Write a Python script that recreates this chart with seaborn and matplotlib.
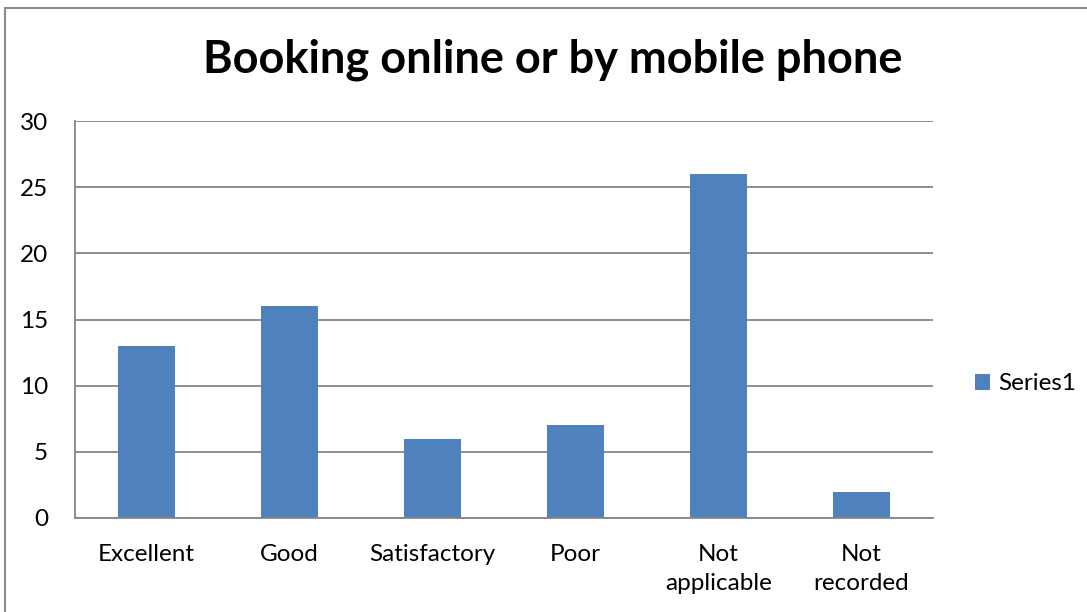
import matplotlib
matplotlib.use("Agg")
import matplotlib.pyplot as plt
import seaborn as sns
import pandas as pd
from matplotlib.patches import Rectangle

categories = ["Excellent", "Good", "Satisfactory", "Poor", "Not\napplicable", "Not\nrecorded"]
values = [13, 16, 6, 7, 26, 2]
series_name = "Series1"
y_ticks = [0, 5, 10, 15, 20, 25, 30]

df = pd.DataFrame({"category": categories, "value": values, "series": series_name})

sns.set_theme(style="white")
plt.rcParams["font.family"] = ["Lato", "DejaVu Sans"]
plt.rcParams["text.color"] = "black"

fig = plt.figure(figsize=(10.87, 6.12), dpi=100)
ax = fig.add_axes([75 / 1087, 1 - 518 / 612, (933 - 75) / 1087, (518 - 121) / 612])

sns.barplot(data=df, x="category", y="value", hue="series",
            palette=["#4F81BD"], width=0.4, saturation=1, linewidth=0, ax=ax)

grid_c = "#868686"
ax.set_ylim(0, 30)
ax.set_yticks(y_ticks)
ax.set_xlim(-0.5, len(categories) - 0.5)
ax.yaxis.grid(True, color=grid_c, linewidth=1.3)
ax.set_axisbelow(True)
for s in ["top", "right"]:
    ax.spines[s].set_visible(False)
for s in ["left", "bottom"]:
    ax.spines[s].set_color(grid_c)
    ax.spines[s].set_linewidth(1.3)
ax.tick_params(axis="both", length=0, labelsize=17.5, colors="black")
ax.tick_params(axis="y", pad=19.5)
ax.tick_params(axis="x", pad=18.5)
for lbl in ax.get_xticklabels():
    lbl.set_linespacing(1.5)
ax.set_xlabel("")
ax.set_ylabel("")

leg = ax.legend(loc="center left", bbox_to_anchor=(975 / 1087, 1 - 384 / 612),
                bbox_transform=fig.transFigure, frameon=False, fontsize=17.5,
                borderaxespad=0, borderpad=0,
                handlelength=0.6, handleheight=0.6, handletextpad=0.35)

fig.text(553 / 1087, 1 - 60 / 612, "Booking online or by mobile phone",
         ha="center", va="center", fontsize=32.5, fontweight="bold")

fig.patches.append(Rectangle((5 / 1087, -0.1), 1.2, 1 - 8 / 612 + 0.1,
                             transform=fig.transFigure, fill=False,
                             edgecolor="#8c8c8c", linewidth=1.5))

fig.savefig("out.png", dpi=100)
